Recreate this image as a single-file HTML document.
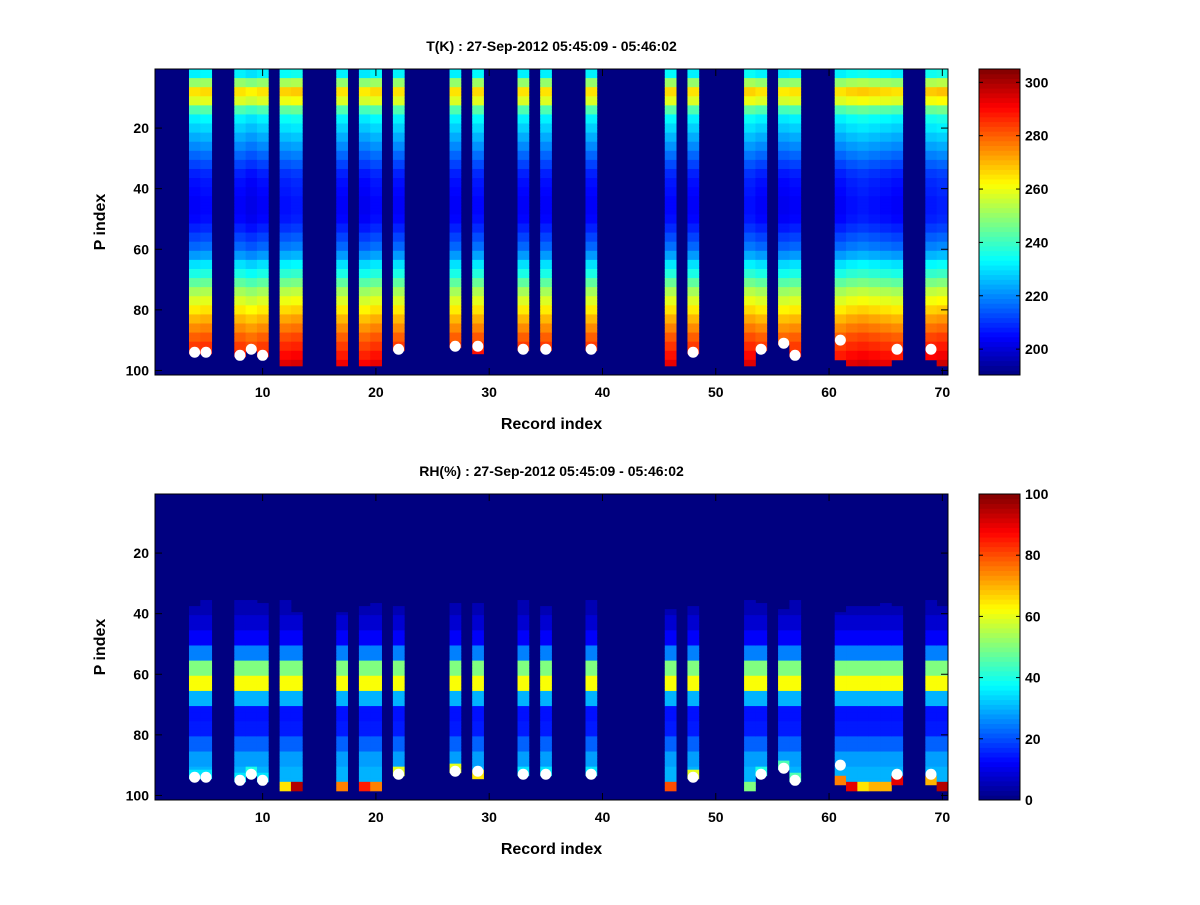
<!DOCTYPE html>
<html><head><meta charset="utf-8"><style>
body{margin:0;background:#fff;}
svg text{font-family:"Liberation Sans",sans-serif;font-weight:bold;fill:#000;}
</style></head><body>
<svg id="fig" width="1200" height="900" viewBox="0 0 1200 900" xmlns="http://www.w3.org/2000/svg">
<rect width="1200" height="900" fill="#fff"/>
</svg>
<script>
// ---- data ----
const records = [4,5,8,9,10,12,13,17,19,20,22,27,29,33,35,39,46,48,53,54,56,57,61,62,63,64,65,66,69,70];
const bottomIdx = [94,94,95,93,95,98,98,98,98,98,93,92,94,93,93,93,98,94,98,93,91,95,96,98,98,98,98,96,96,98];
const dotRecords = [4,5,8,9,10,22,27,29,33,35,39,48,54,56,57,61,66,69];
const dotIdx = [94,94,95,93,95,93,92,92,93,93,93,94,93,91,95,90,93,93];
// temperature profile in 3-row bins (rows 1-3, 4-6, ... 100-101)
const tempBins = [232,250,265,258,242,232,228,224,220,216,212,208,206,205,204,204,205,208,212,216,222,230,236,244,252,258,264,270,275,280,284,288,292,295];
const tempOffset = [0,1,0,-2,0,2,3,0,-1,1,0,0,1,0,0,0,1,0,2,0,-1,0,0,2,3,2,1,0,3,4];
// RH profile in 5-row bins
const rhBins = [0,0,0,0,0,0,0,5,8,12,25,50,62,30,14,15,22,28,30,45];
const rhStart = [38,36,35,35,37,36,40,40,38,37,38,37,37,36,38,36,39,38,36,37,39,35,40,38,38,38,37,38,36,38];
const rhBottom = [35,35,35,40,35,65,95,75,85,75,60,60,65,35,35,35,80,60,50,40,45,45,75,90,65,70,70,90,70,95];
const xTicks = [10,20,30,40,50,60,70];
const yTicks = [20,40,60,80,100];
const tCbTicks = [200,220,240,260,280,300];
const rhCbTicks = [0,20,40,60,80,100];

const NS="http://www.w3.org/2000/svg";
const svg=document.getElementById('fig');
function mk(tag,attrs,parent){const e=document.createElementNS(NS,tag);for(const k in attrs)e.setAttribute(k,attrs[k]);(parent||svg).appendChild(e);return e;}
function jet(v){
  v=Math.max(0,Math.min(1,v));
  const f=x=>Math.round(255*Math.max(0,Math.min(1,x)));
  const r=f(Math.min(4*v-1.5,-4*v+4.5)), g=f(Math.min(4*v-0.5,-4*v+3.5)), b=f(Math.min(4*v+0.5,-4*v+2.5));
  return `rgb(${r},${g},${b})`;
}
const X0=155,X1=948,CB0=979,CB1=1020;
const xs=r=>X0+(r-0.5)*(X1-X0)/70;
const cw=(X1-X0)/70;

function panel(top,title,kind){
  const bot=top+306, rh=(bot-top)/101;
  const ys=p=>top+(p-0.5)*rh;
  const vmin=kind==='T'?190.3:0, vmax=kind==='T'?305:100;
  const g=mk('g',{});
  
  
  mk('rect',{x:X0,y:top,width:X1-X0,height:bot-top,fill:jet(0)},g);
  records.forEach((r,i)=>{
    const start=kind==='T'?1:rhStart[i];
    for(let p=start;p<=bottomIdx[i];p++){
      let v;
      if(kind==='T'){v=tempBins[Math.min(tempBins.length-1,Math.floor((p-1)/3))]+tempOffset[i];}
      else{v=rhBins[Math.min(19,Math.floor((p-1)/5))]; if(p>=bottomIdx[i]-2)v=rhBottom[i];}
      const c=mk('rect',{x:xs(r)-cw/2,y:ys(p)-rh/2,width:cw+0.4,height:rh+0.4,fill:jet((v-vmin)/(vmax-vmin))},g);
      
      
    }
  });
  dotRecords.forEach((r,i)=>{
    const d=mk('circle',{cx:xs(r),cy:ys(dotIdx[i]),r:5.5,fill:'#fff'},g);
    
    
  });
  mk('rect',{x:X0,y:top,width:X1-X0,height:bot-top,fill:'none',stroke:'#000','stroke-width':1},g);
  xTicks.forEach(t=>{
    const x=xs(t);
    mk('line',{x1:x,y1:bot,x2:x,y2:bot-7,stroke:'#000'},g);
    mk('line',{x1:x,y1:top,x2:x,y2:top+7,stroke:'#000'},g);
    const tx=mk('text',{x:x,y:bot+22,'text-anchor':'middle','font-size':14},g);tx.textContent=t;
    
    
  });
  yTicks.forEach(t=>{
    const y=ys(t);
    mk('line',{x1:X0,y1:y,x2:X0+7,y2:y,stroke:'#000'},g);
    mk('line',{x1:X1,y1:y,x2:X1-7,y2:y,stroke:'#000'},g);
    const tx=mk('text',{x:X0-6,y:y+5,'text-anchor':'end','font-size':14},g);tx.textContent=t;
    
    
  });
  const tt=mk('text',{x:(X0+X1)/2,y:top-18,'text-anchor':'middle','font-size':14},g);tt.textContent=title;
  
  
  const xl=mk('text',{x:(X0+X1)/2,y:bot+54,'text-anchor':'middle','font-size':16},g);xl.textContent='Record index';
  
  
  const yl=mk('text',{x:0,y:0,'text-anchor':'middle','font-size':16,transform:`translate(105,${(top+bot)/2}) rotate(-90)`},g);yl.textContent='P index';
  
  
  const cb=mk('g',{});
  
  
  const n=64;
  for(let k=0;k<n;k++){
    const h=(bot-top)/n;
    mk('rect',{x:CB0,y:bot-(k+1)*h,width:CB1-CB0,height:h+0.5,fill:jet((k+0.5)/n)},cb);
  }
  mk('rect',{x:CB0,y:top,width:CB1-CB0,height:bot-top,fill:'none',stroke:'#000'},cb);
  (kind==='T'?tCbTicks:rhCbTicks).forEach(t=>{
    const y=bot-(t-vmin)/(vmax-vmin)*(bot-top);
    mk('line',{x1:CB0,y1:y,x2:CB0+4,y2:y,stroke:'#000'},cb);
    mk('line',{x1:CB1,y1:y,x2:CB1-4,y2:y,stroke:'#000'},cb);
    const tx=mk('text',{x:CB1+5,y:y+5,'font-size':14},cb);tx.textContent=t;
    
    
  });
}
panel(69,'T(K) : 27-Sep-2012 05:45:09 - 05:46:02','T');
panel(494,'RH(%) : 27-Sep-2012 05:45:09 - 05:46:02','RH');
</script>
</body></html>
